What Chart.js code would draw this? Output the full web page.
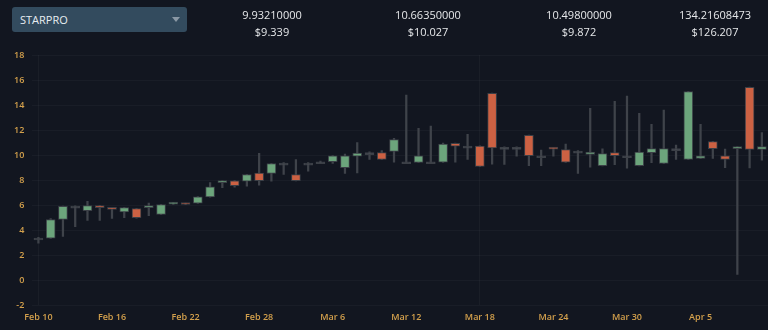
<!DOCTYPE html>
<html>
<head>
<meta charset="utf-8">
<script src="https://cdn.jsdelivr.net/npm/chart.js@4"></script>
<style>
  html, body { margin: 0; padding: 0; background: #121620; }
  #wrap { position: relative; width: 768px; height: 330px; overflow: hidden; font-family: "Open Sans", sans-serif; }
  #pick { position: absolute; left: 12px; top: 7px; width: 175px; height: 25px; background: #334b5e; border-radius: 3px;
          color: #e8edf2; font-size: 11px; line-height: 25px; box-sizing: border-box; padding-left: 8px; }
  #pick:after { content: ""; position: absolute; right: 7px; top: 10px; border-left: 4px solid transparent;
          border-right: 4px solid transparent; border-top: 5px solid #8a98a5; }
  .stat { position: absolute; top: 6px; width: 120px; text-align: center; color: #e6e8ea; font-size: 11px; line-height: 17px; }
  canvas { position: absolute; left: 0; top: 0; }
</style>
</head>
<body>
<div id="wrap">
  <canvas id="candles" width="768" height="330"></canvas>
  <div id="pick">STARPRO</div>
  <div class="stat" style="left:212px">9.93210000<br>$9.339</div>
  <div class="stat" style="left:368px">10.66350000<br>$10.027</div>
  <div class="stat" style="left:519px">10.49800000<br>$9.872</div>
  <div class="stat" style="left:655px">134.21608473<br>$126.207</div>
</div>
<script>
var dates = ['Feb 10','Feb 11','Feb 12','Feb 13','Feb 14','Feb 15','Feb 16','Feb 17','Feb 18','Feb 19',
    'Feb 20','Feb 21','Feb 22','Feb 23','Feb 24','Feb 25','Feb 26','Feb 27','Feb 28','Mar 1',
    'Mar 2','Mar 3','Mar 4','Mar 5','Mar 6','Mar 7','Mar 8','Mar 9','Mar 10','Mar 11',
    'Mar 12','Mar 13','Mar 14','Mar 15','Mar 16','Mar 17','Mar 18','Mar 19','Mar 20','Mar 21',
    'Mar 22','Mar 23','Mar 24','Mar 25','Mar 26','Mar 27','Mar 28','Mar 29','Mar 30','Mar 31',
    'Apr 1','Apr 2','Apr 3','Apr 4','Apr 5','Apr 6','Apr 7','Apr 8','Apr 9','Apr 10'];

var opens = [3.37, 3.35, 4.85, 5.92, 5.55, 5.97, 5.78, 5.45, 5.73, 5.8,
    5.25, 6.08, 6.15, 6.15, 6.65, 7.8, 7.95, 7.92, 8.56, 8.53,
    9.36, 8.45, 9.36, 9.47, 9.47, 9.0, 9.92, 10.2, 10.2, 10.3,
    9.47, 9.41, 9.47, 9.44, 10.93, 10.72, 10.72, 14.93, 10.61, 10.61,
    11.57, 9.95, 10.55, 10.43, 10.32, 10.05, 9.15, 10.2, 9.95, 9.15,
    10.2, 9.33, 10.51, 9.65, 9.73, 11.07, 9.95, 10.52, 15.42, 10.45];

var closes = [3.37, 4.85, 5.9, 5.92, 5.97, 5.8, 5.66, 5.8, 5.0, 5.97,
    6.05, 6.2, 6.05, 6.67, 7.47, 7.95, 7.55, 8.45, 7.95, 9.33,
    9.36, 7.95, 9.36, 9.47, 9.95, 9.95, 10.16, 10.2, 9.65, 11.23,
    9.47, 9.95, 9.47, 10.88, 10.72, 10.72, 9.1, 10.58, 10.61, 10.61,
    9.95, 9.95, 10.47, 9.44, 10.32, 10.24, 10.11, 9.95, 9.95, 10.24,
    10.51, 10.51, 10.51, 15.07, 9.95, 10.51, 9.65, 10.6, 10.45, 10.67];

var highs = [3.42, 4.93, 5.92, 5.95, 6.3, 5.98, 5.8, 5.82, 5.75, 6.16,
    6.07, 6.22, 6.16, 6.69, 7.8, 7.97, 7.97, 8.47, 10.13, 9.35,
    9.4, 9.65, 9.4, 9.52, 9.97, 10.08, 11.0, 10.25, 10.35, 11.33,
    14.8, 12.13, 12.32, 10.96, 10.95, 11.65, 10.74, 14.95, 10.65, 10.65,
    11.59, 10.4, 10.57, 10.88, 10.35, 13.73, 10.5, 14.3, 14.72, 13.33,
    12.45, 13.6, 10.8, 15.09, 12.45, 11.09, 10.48, 10.67, 15.44, 11.8];

var lows = [2.95, 3.33, 3.5, 4.27, 4.78, 4.78, 4.93, 4.99, 4.95, 5.15,
    5.23, 6.06, 6.03, 6.14, 6.63, 7.4, 7.44, 7.52, 7.6, 7.92,
    8.45, 7.93, 8.72, 9.4, 9.33, 8.53, 8.58, 9.65, 9.63, 9.44,
    9.44, 9.39, 9.44, 9.42, 9.44, 9.65, 9.08, 9.28, 9.25, 9.92,
    9.15, 9.15, 9.92, 9.42, 8.53, 9.04, 9.13, 9.23, 8.96, 9.13,
    9.39, 9.31, 9.65, 9.63, 9.71, 9.73, 9.0, 0.46, 8.98, 9.6];

var yTicks = [-2, 0, 2, 4, 6, 8, 10, 12, 14, 16, 18];

var bodies = dates.map(function(d, i) { return [opens[i], closes[i]]; });
var wicks = dates.map(function(d, i) { return [lows[i], highs[i]]; });
var bodyColors = dates.map(function(d, i) {
    if (closes[i] > opens[i]) return '#6ca57c';
    if (closes[i] < opens[i]) return '#cc6143';
    return '#4a4e55';
});

var gridColor = function(ctx) {
    return ctx.index % 6 === 0 ? 'rgba(255,255,255,0.035)' : 'rgba(0,0,0,0)';
};

new Chart(document.getElementById('candles').getContext('2d'), {
    type: 'bar',
    data: {
        labels: dates,
        datasets: [
            {
                data: bodies,
                backgroundColor: bodyColors,
                borderColor: '#3b3f46',
                borderWidth: 1,
                borderSkipped: false,
                barThickness: 9,
                minBarLength: 2,
                grouped: false
            },
            {
                data: wicks,
                backgroundColor: '#3f434a',
                borderWidth: 0,
                barThickness: 1.6,
                grouped: false
            }
        ]
    },
    options: {
        responsive: false,
        animation: false,
        layout: { padding: { top: 55, right: 0, bottom: 0, left: 6 } },
        plugins: {
            legend: { display: false },
            tooltip: { enabled: false }
        },
        scales: {
            x: {
                offset: true,
                grid: { offset: false, color: gridColor, drawTicks: false },
                border: { display: false },
                ticks: {
                    autoSkip: false,
                    maxRotation: 0,
                    padding: 7,
                    color: '#d3a04c',
                    font: { family: 'Open Sans', size: 9, weight: '600' },
                    callback: function(v, i) { return i % 6 === 0 ? dates[i] : null; }
                }
            },
            y: {
                min: yTicks[0],
                max: yTicks[yTicks.length - 1],
                afterBuildTicks: function(axis) { axis.ticks = yTicks.map(function(v) { return { value: v }; }); },
                grid: { color: 'rgba(255,255,255,0.03)', drawTicks: false },
                border: { display: false },
                ticks: {
                    padding: 8,
                    color: '#d3a04c',
                    font: { family: 'Open Sans', size: 9, weight: '600' }
                }
            }
        }
    }
});
</script>
</body>
</html>
